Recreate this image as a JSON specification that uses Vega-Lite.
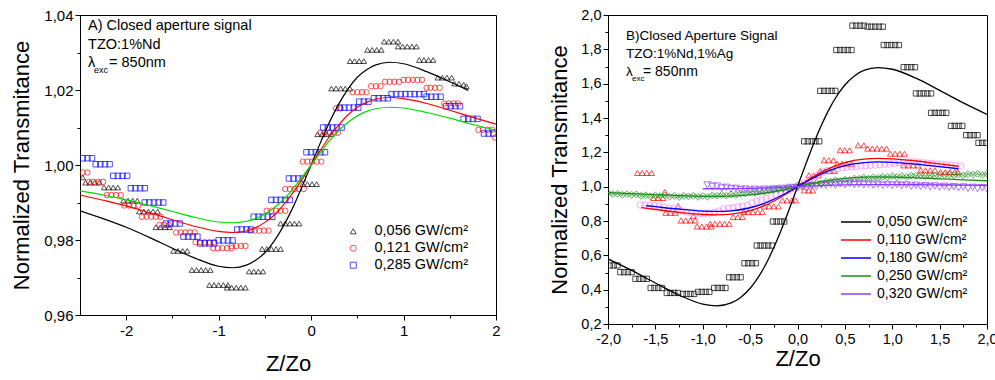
{
"$schema":"https://vega.github.io/schema/vega-lite/v6.json",
"padding":{"left":10,"top":6,"right":0,"bottom":0},
"spacing":47,
"columns":2,
"align":"none",
"resolve":{"scale":{"color":"independent","shape":"independent","stroke":"independent","size":"independent"}},
"config":{
 "font":"Liberation Sans",
 "view":{"stroke":"#000","strokeWidth":1},
 "axis":{"grid":false,"domainColor":"#000","tickColor":"#000","labelColor":"#000","titleColor":"#000","labelFont":"Liberation Sans","titleFont":"Liberation Sans","titleFontWeight":"normal","labelFontSize":15,"titleFontSize":22,"labelOverlap":false,"labelFlush":false,"labelBound":false},
 "legend":{"labelFont":"Liberation Sans","labelColor":"#000","padding":0}
},
"datasets":{
"TA":[{"t":"A) Closed aperture signal","x":-2.413,"y":1.037},{"t":"TZO:1%Nd","x":-2.413,"y":1.0321}],
"TB":[{"t":"B)Closed Aperture Signal","x":-1.81,"y":1.879},{"t":"TZO:1%Nd,1%Ag","x":-1.81,"y":1.774}],
"A":[
{"s":"a","x":-2.47,"y":0.9967},{"s":"a","x":-2.44,"y":0.9953},{"s":"a","x":-2.39,"y":0.9953},{"s":"a","x":-2.34,"y":0.9953},{"s":"a","x":-2.29,"y":0.9953},
{"s":"a","x":-2.24,"y":0.994},{"s":"a","x":-2.19,"y":0.994},{"s":"a","x":-2.14,"y":0.994},{"s":"a","x":-2.09,"y":0.994},
{"s":"a","x":-2.03,"y":0.9905},{"s":"a","x":-1.98,"y":0.9905},{"s":"a","x":-1.93,"y":0.9905},{"s":"a","x":-1.88,"y":0.9905},
{"s":"a","x":-1.86,"y":0.9876},{"s":"a","x":-1.81,"y":0.9876},{"s":"a","x":-1.76,"y":0.9876},{"s":"a","x":-1.71,"y":0.9876},{"s":"a","x":-1.66,"y":0.9876},
{"s":"a","x":-1.68,"y":0.9834},{"s":"a","x":-1.63,"y":0.9834},{"s":"a","x":-1.58,"y":0.9834},{"s":"a","x":-1.53,"y":0.9834},
{"s":"a","x":-1.49,"y":0.9771},{"s":"a","x":-1.44,"y":0.9771},{"s":"a","x":-1.39,"y":0.9771},{"s":"a","x":-1.34,"y":0.9771},
{"s":"a","x":-1.29,"y":0.972},{"s":"a","x":-1.24,"y":0.972},{"s":"a","x":-1.19,"y":0.972},{"s":"a","x":-1.14,"y":0.972},{"s":"a","x":-1.09,"y":0.972},
{"s":"a","x":-1.1,"y":0.968},{"s":"a","x":-1.05,"y":0.968},{"s":"a","x":-1.0,"y":0.968},{"s":"a","x":-0.95,"y":0.968},{"s":"a","x":-0.9,"y":0.968},
{"s":"a","x":-0.91,"y":0.9673},{"s":"a","x":-0.86,"y":0.9673},{"s":"a","x":-0.81,"y":0.9673},{"s":"a","x":-0.76,"y":0.9673},{"s":"a","x":-0.71,"y":0.9673},
{"s":"a","x":-0.67,"y":0.9716},{"s":"a","x":-0.62,"y":0.9716},{"s":"a","x":-0.57,"y":0.9716},{"s":"a","x":-0.52,"y":0.9716},
{"s":"a","x":-0.53,"y":0.9776},{"s":"a","x":-0.48,"y":0.9776},{"s":"a","x":-0.43,"y":0.9776},{"s":"a","x":-0.38,"y":0.9776},{"s":"a","x":-0.33,"y":0.9776},
{"s":"a","x":-0.33,"y":0.9844},{"s":"a","x":-0.28,"y":0.9844},{"s":"a","x":-0.23,"y":0.9844},{"s":"a","x":-0.18,"y":0.9844},{"s":"a","x":-0.13,"y":0.9844},
{"s":"a","x":-0.09,"y":0.9949},{"s":"a","x":-0.04,"y":0.9949},{"s":"a","x":0.01,"y":0.9949},{"s":"a","x":0.06,"y":0.9949},
{"s":"a","x":0.07,"y":1.0082},{"s":"a","x":0.12,"y":1.0082},{"s":"a","x":0.17,"y":1.0082},{"s":"a","x":0.22,"y":1.0082},
{"s":"a","x":0.22,"y":1.0204},{"s":"a","x":0.27,"y":1.0204},{"s":"a","x":0.32,"y":1.0204},{"s":"a","x":0.37,"y":1.0204},{"s":"a","x":0.42,"y":1.0204},
{"s":"a","x":0.42,"y":1.0277},{"s":"a","x":0.47,"y":1.0277},{"s":"a","x":0.52,"y":1.0277},{"s":"a","x":0.57,"y":1.0277},
{"s":"a","x":0.61,"y":1.0307},{"s":"a","x":0.66,"y":1.0307},{"s":"a","x":0.71,"y":1.0307},{"s":"a","x":0.76,"y":1.0307},
{"s":"a","x":0.79,"y":1.0329},{"s":"a","x":0.84,"y":1.0329},{"s":"a","x":0.89,"y":1.0329},{"s":"a","x":0.94,"y":1.0329},
{"s":"a","x":0.94,"y":1.0316},{"s":"a","x":0.99,"y":1.0316},{"s":"a","x":1.04,"y":1.0316},{"s":"a","x":1.09,"y":1.0316},{"s":"a","x":1.14,"y":1.0316},
{"s":"a","x":1.17,"y":1.028},{"s":"a","x":1.22,"y":1.028},{"s":"a","x":1.27,"y":1.028},{"s":"a","x":1.32,"y":1.028},
{"s":"a","x":1.37,"y":1.0233},{"s":"a","x":1.42,"y":1.0233},{"s":"a","x":1.47,"y":1.0233},{"s":"a","x":1.52,"y":1.0233},
{"s":"a","x":1.55,"y":1.0217},{"s":"a","x":1.6,"y":1.0217},{"s":"a","x":1.65,"y":1.0214},{"s":"a","x":1.68,"y":1.021},
{"s":"b","x":-2.47,"y":0.998},{"s":"b","x":-2.42,"y":0.998},
{"s":"b","x":-2.4,"y":0.9955},{"s":"b","x":-2.35,"y":0.9955},{"s":"b","x":-2.3,"y":0.9955},{"s":"b","x":-2.25,"y":0.9955},
{"s":"b","x":-2.21,"y":0.992},{"s":"b","x":-2.16,"y":0.992},{"s":"b","x":-2.11,"y":0.992},{"s":"b","x":-2.06,"y":0.992},
{"s":"b","x":-2.02,"y":0.9892},{"s":"b","x":-1.97,"y":0.9892},{"s":"b","x":-1.92,"y":0.9892},{"s":"b","x":-1.87,"y":0.9892},
{"s":"b","x":-1.83,"y":0.9862},{"s":"b","x":-1.78,"y":0.9862},{"s":"b","x":-1.73,"y":0.9862},{"s":"b","x":-1.68,"y":0.9862},{"s":"b","x":-1.63,"y":0.9862},
{"s":"b","x":-1.64,"y":0.984},{"s":"b","x":-1.59,"y":0.984},{"s":"b","x":-1.54,"y":0.984},
{"s":"b","x":-1.46,"y":0.982},{"s":"b","x":-1.41,"y":0.982},{"s":"b","x":-1.36,"y":0.982},{"s":"b","x":-1.31,"y":0.982},{"s":"b","x":-1.26,"y":0.982},
{"s":"b","x":-1.25,"y":0.9794},{"s":"b","x":-1.2,"y":0.9794},{"s":"b","x":-1.15,"y":0.9794},{"s":"b","x":-1.1,"y":0.9794},{"s":"b","x":-1.05,"y":0.9794},
{"s":"b","x":-1.06,"y":0.9778},{"s":"b","x":-1.01,"y":0.9778},{"s":"b","x":-0.96,"y":0.9778},{"s":"b","x":-0.91,"y":0.9778},{"s":"b","x":-0.86,"y":0.9778},
{"s":"b","x":-0.86,"y":0.9784},{"s":"b","x":-0.81,"y":0.9784},{"s":"b","x":-0.76,"y":0.9784},{"s":"b","x":-0.71,"y":0.9784},
{"s":"b","x":-0.66,"y":0.9825},{"s":"b","x":-0.61,"y":0.9825},{"s":"b","x":-0.56,"y":0.9825},{"s":"b","x":-0.51,"y":0.9825},{"s":"b","x":-0.46,"y":0.9825},
{"s":"b","x":-0.48,"y":0.9878},{"s":"b","x":-0.43,"y":0.9878},{"s":"b","x":-0.38,"y":0.9878},{"s":"b","x":-0.33,"y":0.9878},{"s":"b","x":-0.28,"y":0.9878},
{"s":"b","x":-0.28,"y":0.9936},{"s":"b","x":-0.23,"y":0.9936},{"s":"b","x":-0.18,"y":0.9936},{"s":"b","x":-0.13,"y":0.9936},{"s":"b","x":-0.08,"y":0.9936},
{"s":"b","x":-0.09,"y":1.0009},{"s":"b","x":-0.04,"y":1.0009},{"s":"b","x":0.01,"y":1.0009},{"s":"b","x":0.06,"y":1.0009},{"s":"b","x":0.11,"y":1.0009},
{"s":"b","x":0.1,"y":1.0086},{"s":"b","x":0.15,"y":1.0086},{"s":"b","x":0.2,"y":1.0086},{"s":"b","x":0.25,"y":1.0086},{"s":"b","x":0.29,"y":1.0086},
{"s":"b","x":0.27,"y":1.0151},{"s":"b","x":0.32,"y":1.0151},
{"s":"b","x":0.45,"y":1.0194},{"s":"b","x":0.5,"y":1.0194},{"s":"b","x":0.55,"y":1.0194},{"s":"b","x":0.6,"y":1.0194},
{"s":"b","x":0.65,"y":1.021},{"s":"b","x":0.7,"y":1.021},{"s":"b","x":0.75,"y":1.021},{"s":"b","x":0.8,"y":1.0222},
{"s":"b","x":0.85,"y":1.0222},{"s":"b","x":0.9,"y":1.0222},{"s":"b","x":0.95,"y":1.0222},{"s":"b","x":1.0,"y":1.0227},
{"s":"b","x":1.05,"y":1.0227},{"s":"b","x":1.1,"y":1.0227},{"s":"b","x":1.15,"y":1.0227},{"s":"b","x":1.2,"y":1.0227},
{"s":"b","x":1.25,"y":1.0206},{"s":"b","x":1.29,"y":1.0206},{"s":"b","x":1.34,"y":1.0206},{"s":"b","x":1.39,"y":1.0206},
{"s":"b","x":1.44,"y":1.0164},{"s":"b","x":1.49,"y":1.0164},{"s":"b","x":1.54,"y":1.0164},{"s":"b","x":1.59,"y":1.0164},
{"s":"b","x":1.81,"y":1.0094},{"s":"b","x":1.86,"y":1.0094},{"s":"b","x":1.91,"y":1.0094},{"s":"b","x":1.96,"y":1.0094},{"s":"b","x":1.99,"y":1.0073},
{"s":"c","x":-2.47,"y":1.0018},{"s":"c","x":-2.42,"y":1.0018},{"s":"c","x":-2.37,"y":1.0018},
{"s":"c","x":-2.33,"y":1.0002},{"s":"c","x":-2.28,"y":1.0002},{"s":"c","x":-2.23,"y":1.0002},{"s":"c","x":-2.18,"y":1.0002},
{"s":"c","x":-2.14,"y":0.9971},{"s":"c","x":-2.09,"y":0.9971},{"s":"c","x":-2.04,"y":0.9971},{"s":"c","x":-1.99,"y":0.9971},
{"s":"c","x":-1.95,"y":0.9938},{"s":"c","x":-1.9,"y":0.9938},{"s":"c","x":-1.85,"y":0.9938},{"s":"c","x":-1.8,"y":0.9938},
{"s":"c","x":-1.8,"y":0.99},{"s":"c","x":-1.75,"y":0.99},{"s":"c","x":-1.7,"y":0.99},{"s":"c","x":-1.65,"y":0.99},{"s":"c","x":-1.6,"y":0.99},
{"s":"c","x":-1.57,"y":0.9844},{"s":"c","x":-1.52,"y":0.9844},{"s":"c","x":-1.47,"y":0.9844},{"s":"c","x":-1.42,"y":0.9844},
{"s":"c","x":-1.38,"y":0.9809},{"s":"c","x":-1.33,"y":0.9809},{"s":"c","x":-1.28,"y":0.9809},{"s":"c","x":-1.23,"y":0.9809},
{"s":"c","x":-1.2,"y":0.9791},{"s":"c","x":-1.15,"y":0.9791},{"s":"c","x":-1.1,"y":0.9791},{"s":"c","x":-1.05,"y":0.9791},
{"s":"c","x":-1.0,"y":0.9799},{"s":"c","x":-0.95,"y":0.9799},{"s":"c","x":-0.9,"y":0.9799},{"s":"c","x":-0.85,"y":0.9799},
{"s":"c","x":-0.8,"y":0.9828},{"s":"c","x":-0.75,"y":0.9828},{"s":"c","x":-0.7,"y":0.9828},{"s":"c","x":-0.65,"y":0.9828},
{"s":"c","x":-0.62,"y":0.9862},{"s":"c","x":-0.57,"y":0.9862},{"s":"c","x":-0.52,"y":0.9862},{"s":"c","x":-0.47,"y":0.9862},{"s":"c","x":-0.42,"y":0.9862},
{"s":"c","x":-0.43,"y":0.9907},{"s":"c","x":-0.38,"y":0.9907},{"s":"c","x":-0.33,"y":0.9907},{"s":"c","x":-0.28,"y":0.9907},{"s":"c","x":-0.23,"y":0.9907},
{"s":"c","x":-0.24,"y":0.9964},{"s":"c","x":-0.19,"y":0.9964},{"s":"c","x":-0.14,"y":0.9964},{"s":"c","x":-0.09,"y":0.9964},
{"s":"c","x":-0.05,"y":1.0034},{"s":"c","x":0.0,"y":1.0034},{"s":"c","x":0.05,"y":1.0034},{"s":"c","x":0.1,"y":1.0034},{"s":"c","x":0.15,"y":1.0034},
{"s":"c","x":0.13,"y":1.01},{"s":"c","x":0.18,"y":1.01},{"s":"c","x":0.23,"y":1.01},{"s":"c","x":0.28,"y":1.01},{"s":"c","x":0.33,"y":1.01},
{"s":"c","x":0.31,"y":1.0153},{"s":"c","x":0.36,"y":1.0153},{"s":"c","x":0.41,"y":1.0153},{"s":"c","x":0.46,"y":1.0153},{"s":"c","x":0.51,"y":1.0153},
{"s":"c","x":0.52,"y":1.0169},{"s":"c","x":0.57,"y":1.0169},{"s":"c","x":0.62,"y":1.0169},
{"s":"c","x":0.68,"y":1.0178},{"s":"c","x":0.73,"y":1.0178},{"s":"c","x":0.78,"y":1.0178},{"s":"c","x":0.83,"y":1.0178},
{"s":"c","x":0.87,"y":1.0189},{"s":"c","x":0.92,"y":1.0189},{"s":"c","x":0.97,"y":1.0189},{"s":"c","x":1.02,"y":1.0189},{"s":"c","x":1.07,"y":1.0189},{"s":"c","x":1.12,"y":1.0189},{"s":"c","x":1.17,"y":1.0189},{"s":"c","x":1.22,"y":1.0189},
{"s":"c","x":1.25,"y":1.0182},{"s":"c","x":1.3,"y":1.0182},{"s":"c","x":1.35,"y":1.0182},{"s":"c","x":1.4,"y":1.0182},
{"s":"c","x":1.46,"y":1.0157},{"s":"c","x":1.51,"y":1.0157},{"s":"c","x":1.56,"y":1.0157},{"s":"c","x":1.61,"y":1.0157},
{"s":"c","x":1.65,"y":1.0123},{"s":"c","x":1.7,"y":1.0123},{"s":"c","x":1.75,"y":1.0123},{"s":"c","x":1.8,"y":1.0123},
{"s":"c","x":1.87,"y":1.0084},{"s":"c","x":1.92,"y":1.0084},{"s":"c","x":1.97,"y":1.0084}
],
"AL":[
{"s":"a","x":-2.5,"y":0.9878},{"s":"a","x":-2.25,"y":0.9857},{"s":"a","x":-2,"y":0.9834},{"s":"a","x":-1.75,"y":0.9807},{"s":"a","x":-1.5,"y":0.9778},{"s":"a","x":-1.25,"y":0.9751},{"s":"a","x":-1,"y":0.973},{"s":"a","x":-0.85,"y":0.9726},{"s":"a","x":-0.7,"y":0.9733},{"s":"a","x":-0.6,"y":0.9746},{"s":"a","x":-0.5,"y":0.9766},{"s":"a","x":-0.4,"y":0.9797},{"s":"a","x":-0.3,"y":0.9837},{"s":"a","x":-0.2,"y":0.9885},{"s":"a","x":-0.1,"y":0.9941},{"s":"a","x":0,"y":1.0},{"s":"a","x":0.1,"y":1.0059},{"s":"a","x":0.2,"y":1.0115},{"s":"a","x":0.3,"y":1.0163},{"s":"a","x":0.4,"y":1.0203},{"s":"a","x":0.5,"y":1.0234},{"s":"a","x":0.6,"y":1.0254},{"s":"a","x":0.7,"y":1.0267},{"s":"a","x":0.85,"y":1.0274},{"s":"a","x":1,"y":1.027},{"s":"a","x":1.25,"y":1.0249},{"s":"a","x":1.5,"y":1.0222},{"s":"a","x":1.7,"y":1.0199},
{"s":"b","x":-2.5,"y":0.992},{"s":"b","x":-2.25,"y":0.9906},{"s":"b","x":-2,"y":0.9891},{"s":"b","x":-1.75,"y":0.9873},{"s":"b","x":-1.5,"y":0.9854},{"s":"b","x":-1.25,"y":0.9836},{"s":"b","x":-1,"y":0.9823},{"s":"b","x":-0.85,"y":0.982},{"s":"b","x":-0.7,"y":0.9824},{"s":"b","x":-0.6,"y":0.9833},{"s":"b","x":-0.5,"y":0.9847},{"s":"b","x":-0.4,"y":0.9866},{"s":"b","x":-0.3,"y":0.9893},{"s":"b","x":-0.2,"y":0.9925},{"s":"b","x":-0.1,"y":0.9961},{"s":"b","x":0,"y":1.0},{"s":"b","x":0.1,"y":1.0039},{"s":"b","x":0.2,"y":1.0076},{"s":"b","x":0.3,"y":1.0107},{"s":"b","x":0.4,"y":1.0134},{"s":"b","x":0.5,"y":1.0154},{"s":"b","x":0.6,"y":1.0167},{"s":"b","x":0.7,"y":1.0176},{"s":"b","x":0.85,"y":1.018},{"s":"b","x":1,"y":1.0177},{"s":"b","x":1.25,"y":1.0164},{"s":"b","x":1.5,"y":1.0146},{"s":"b","x":1.75,"y":1.0127},{"s":"b","x":2,"y":1.0109},
{"s":"c","x":-2.5,"y":0.9931},{"s":"c","x":-2.25,"y":0.992},{"s":"c","x":-2,"y":0.9907},{"s":"c","x":-1.75,"y":0.9892},{"s":"c","x":-1.5,"y":0.9876},{"s":"c","x":-1.25,"y":0.986},{"s":"c","x":-1,"y":0.9848},{"s":"c","x":-0.85,"y":0.9846},{"s":"c","x":-0.7,"y":0.985},{"s":"c","x":-0.6,"y":0.9857},{"s":"c","x":-0.5,"y":0.9869},{"s":"c","x":-0.4,"y":0.9886},{"s":"c","x":-0.3,"y":0.9908},{"s":"c","x":-0.2,"y":0.9935},{"s":"c","x":-0.1,"y":0.9967},{"s":"c","x":0,"y":1.0},{"s":"c","x":0.1,"y":1.0033},{"s":"c","x":0.2,"y":1.0065},{"s":"c","x":0.3,"y":1.0092},{"s":"c","x":0.4,"y":1.0114},{"s":"c","x":0.5,"y":1.0131},{"s":"c","x":0.6,"y":1.0143},{"s":"c","x":0.7,"y":1.015},{"s":"c","x":0.85,"y":1.0154},{"s":"c","x":1,"y":1.0152},{"s":"c","x":1.25,"y":1.014},{"s":"c","x":1.5,"y":1.0125},{"s":"c","x":1.75,"y":1.0108},{"s":"c","x":2,"y":1.0093}
],
"B":[
{"s":"a","x":-1.98,"y":0.541},{"s":"a","x":-1.94,"y":0.541},{"s":"a","x":-1.9,"y":0.541},
{"s":"a","x":-1.87,"y":0.502},{"s":"a","x":-1.83,"y":0.502},{"s":"a","x":-1.79,"y":0.502},{"s":"a","x":-1.75,"y":0.502},
{"s":"a","x":-1.71,"y":0.463},{"s":"a","x":-1.67,"y":0.463},{"s":"a","x":-1.63,"y":0.463},{"s":"a","x":-1.59,"y":0.463},
{"s":"a","x":-1.55,"y":0.41},{"s":"a","x":-1.51,"y":0.41},{"s":"a","x":-1.47,"y":0.41},{"s":"a","x":-1.43,"y":0.41},
{"s":"a","x":-1.38,"y":0.381},{"s":"a","x":-1.34,"y":0.381},{"s":"a","x":-1.3,"y":0.381},{"s":"a","x":-1.26,"y":0.381},
{"s":"a","x":-1.21,"y":0.375},{"s":"a","x":-1.17,"y":0.375},{"s":"a","x":-1.13,"y":0.375},{"s":"a","x":-1.09,"y":0.375},
{"s":"a","x":-1.05,"y":0.387},{"s":"a","x":-1.01,"y":0.387},{"s":"a","x":-0.97,"y":0.387},{"s":"a","x":-0.93,"y":0.387},
{"s":"a","x":-0.88,"y":0.41},{"s":"a","x":-0.84,"y":0.41},{"s":"a","x":-0.8,"y":0.41},{"s":"a","x":-0.76,"y":0.41},
{"s":"a","x":-0.72,"y":0.472},{"s":"a","x":-0.68,"y":0.472},{"s":"a","x":-0.64,"y":0.472},{"s":"a","x":-0.6,"y":0.472},
{"s":"a","x":-0.56,"y":0.554},{"s":"a","x":-0.52,"y":0.554},{"s":"a","x":-0.48,"y":0.554},{"s":"a","x":-0.44,"y":0.554},
{"s":"a","x":-0.43,"y":0.657},{"s":"a","x":-0.39,"y":0.657},{"s":"a","x":-0.35,"y":0.657},{"s":"a","x":-0.31,"y":0.657},{"s":"a","x":-0.27,"y":0.657},
{"s":"a","x":-0.26,"y":0.797},{"s":"a","x":-0.22,"y":0.797},{"s":"a","x":-0.18,"y":0.797},{"s":"a","x":-0.14,"y":0.797},
{"s":"a","x":0.07,"y":1.264},{"s":"a","x":0.11,"y":1.264},{"s":"a","x":0.15,"y":1.264},{"s":"a","x":0.19,"y":1.264},{"s":"a","x":0.23,"y":1.264},
{"s":"a","x":0.24,"y":1.558},{"s":"a","x":0.28,"y":1.558},{"s":"a","x":0.32,"y":1.558},{"s":"a","x":0.36,"y":1.558},{"s":"a","x":0.4,"y":1.558},
{"s":"a","x":0.41,"y":1.796},{"s":"a","x":0.45,"y":1.796},{"s":"a","x":0.49,"y":1.796},{"s":"a","x":0.53,"y":1.796},{"s":"a","x":0.57,"y":1.796},
{"s":"a","x":0.58,"y":1.938},{"s":"a","x":0.62,"y":1.938},{"s":"a","x":0.66,"y":1.938},{"s":"a","x":0.7,"y":1.938},
{"s":"a","x":0.74,"y":1.932},{"s":"a","x":0.78,"y":1.932},{"s":"a","x":0.82,"y":1.932},{"s":"a","x":0.86,"y":1.932},{"s":"a","x":0.9,"y":1.932},
{"s":"a","x":0.91,"y":1.825},{"s":"a","x":0.95,"y":1.825},{"s":"a","x":0.99,"y":1.825},{"s":"a","x":1.03,"y":1.825},{"s":"a","x":1.07,"y":1.825},
{"s":"a","x":1.12,"y":1.696},{"s":"a","x":1.16,"y":1.696},{"s":"a","x":1.2,"y":1.696},{"s":"a","x":1.24,"y":1.696},
{"s":"a","x":1.25,"y":1.543},{"s":"a","x":1.29,"y":1.543},{"s":"a","x":1.33,"y":1.543},{"s":"a","x":1.37,"y":1.543},{"s":"a","x":1.41,"y":1.543},
{"s":"a","x":1.41,"y":1.43},{"s":"a","x":1.45,"y":1.43},{"s":"a","x":1.49,"y":1.43},{"s":"a","x":1.53,"y":1.43},{"s":"a","x":1.57,"y":1.43},
{"s":"a","x":1.62,"y":1.354},{"s":"a","x":1.66,"y":1.354},{"s":"a","x":1.7,"y":1.354},{"s":"a","x":1.74,"y":1.354},
{"s":"a","x":1.78,"y":1.3},{"s":"a","x":1.82,"y":1.3},{"s":"a","x":1.86,"y":1.3},{"s":"a","x":1.9,"y":1.3},
{"s":"a","x":1.91,"y":1.255},{"s":"a","x":1.95,"y":1.255},{"s":"a","x":1.99,"y":1.255},
{"s":"b","x":-1.69,"y":1.08},{"s":"b","x":-1.64,"y":1.08},{"s":"b","x":-1.59,"y":1.08},{"s":"b","x":-1.54,"y":1.08},
{"s":"b","x":-1.52,"y":0.934},{"s":"b","x":-1.47,"y":0.934},{"s":"b","x":-1.42,"y":0.934},{"s":"b","x":-1.4,"y":0.969},
{"s":"b","x":-1.39,"y":0.848},{"s":"b","x":-1.34,"y":0.848},{"s":"b","x":-1.29,"y":0.848},{"s":"b","x":-1.26,"y":0.887},
{"s":"b","x":-1.23,"y":0.803},{"s":"b","x":-1.18,"y":0.803},{"s":"b","x":-1.13,"y":0.803},{"s":"b","x":-1.08,"y":0.803},{"s":"b","x":-1.1,"y":0.83},
{"s":"b","x":-1.06,"y":0.768},{"s":"b","x":-1.01,"y":0.768},{"s":"b","x":-0.96,"y":0.768},{"s":"b","x":-0.91,"y":0.768},
{"s":"b","x":-0.92,"y":0.784},{"s":"b","x":-0.87,"y":0.784},{"s":"b","x":-0.82,"y":0.784},{"s":"b","x":-0.77,"y":0.784},{"s":"b","x":-0.72,"y":0.784},
{"s":"b","x":-0.68,"y":0.823},{"s":"b","x":-0.63,"y":0.823},{"s":"b","x":-0.58,"y":0.823},
{"s":"b","x":-0.57,"y":0.852},{"s":"b","x":-0.52,"y":0.852},{"s":"b","x":-0.47,"y":0.852},{"s":"b","x":-0.42,"y":0.852},{"s":"b","x":-0.37,"y":0.852},
{"s":"b","x":-0.35,"y":0.885},{"s":"b","x":-0.3,"y":0.885},{"s":"b","x":-0.25,"y":0.885},{"s":"b","x":-0.2,"y":0.885},
{"s":"b","x":-0.16,"y":0.92},{"s":"b","x":-0.11,"y":0.92},{"s":"b","x":-0.06,"y":0.92},{"s":"b","x":-0.02,"y":0.92},
{"s":"b","x":0.07,"y":0.978},{"s":"b","x":0.12,"y":0.978},{"s":"b","x":0.16,"y":0.978},
{"s":"b","x":0.12,"y":1.066},{"s":"b","x":0.17,"y":1.066},{"s":"b","x":0.22,"y":1.066},
{"s":"b","x":0.24,"y":1.091},{"s":"b","x":0.29,"y":1.091},{"s":"b","x":0.34,"y":1.091},{"s":"b","x":0.39,"y":1.091},
{"s":"b","x":0.28,"y":1.154},{"s":"b","x":0.33,"y":1.154},{"s":"b","x":0.38,"y":1.154},
{"s":"b","x":0.42,"y":1.134},{"s":"b","x":0.47,"y":1.134},{"s":"b","x":0.52,"y":1.134},{"s":"b","x":0.57,"y":1.134},
{"s":"b","x":0.45,"y":1.212},{"s":"b","x":0.5,"y":1.212},{"s":"b","x":0.55,"y":1.212},
{"s":"b","x":0.64,"y":1.241},{"s":"b","x":0.7,"y":1.241},
{"s":"b","x":0.74,"y":1.222},{"s":"b","x":0.79,"y":1.222},{"s":"b","x":0.84,"y":1.222},{"s":"b","x":0.89,"y":1.222},{"s":"b","x":0.94,"y":1.222},
{"s":"b","x":0.98,"y":1.192},{"s":"b","x":1.03,"y":1.192},{"s":"b","x":1.08,"y":1.192},{"s":"b","x":1.13,"y":1.192},
{"s":"b","x":1.12,"y":1.124},{"s":"b","x":1.17,"y":1.124},{"s":"b","x":1.22,"y":1.124},{"s":"b","x":1.27,"y":1.124},
{"s":"b","x":1.3,"y":1.095},{"s":"b","x":1.35,"y":1.095},{"s":"b","x":1.4,"y":1.095},{"s":"b","x":1.45,"y":1.095},
{"s":"b","x":1.51,"y":1.085},{"s":"b","x":1.56,"y":1.085},{"s":"b","x":1.61,"y":1.085},{"s":"b","x":1.66,"y":1.085},{"s":"b","x":1.69,"y":1.085},
{"s":"c","x":-1.66,"y":0.893},{"s":"c","x":-1.61,"y":0.893},{"s":"c","x":-1.56,"y":0.891},{"s":"c","x":-1.51,"y":0.889},
{"s":"c","x":-1.46,"y":0.885},{"s":"c","x":-1.41,"y":0.881},{"s":"c","x":-1.36,"y":0.876},{"s":"c","x":-1.31,"y":0.871},{"s":"c","x":-1.26,"y":0.865},
{"s":"c","x":-1.22,"y":0.858},{"s":"c","x":-1.17,"y":0.852},{"s":"c","x":-1.12,"y":0.848},{"s":"c","x":-1.07,"y":0.846},{"s":"c","x":-1.02,"y":0.845},
{"s":"c","x":-0.98,"y":0.845},{"s":"c","x":-0.93,"y":0.846},{"s":"c","x":-0.88,"y":0.85},{"s":"c","x":-0.83,"y":0.858},
{"s":"c","x":-0.78,"y":0.87},{"s":"c","x":-0.73,"y":0.874},{"s":"c","x":-0.68,"y":0.878},{"s":"c","x":-0.63,"y":0.882},{"s":"c","x":-0.58,"y":0.886},{"s":"c","x":-0.53,"y":0.89},
{"s":"c","x":-0.48,"y":0.905},{"s":"c","x":-0.43,"y":0.915},{"s":"c","x":-0.38,"y":0.922},{"s":"c","x":-0.33,"y":0.93},
{"s":"c","x":-0.28,"y":0.945},{"s":"c","x":-0.23,"y":0.955},{"s":"c","x":-0.18,"y":0.963},{"s":"c","x":-0.13,"y":0.972},{"s":"c","x":-0.08,"y":0.98},
{"s":"c","x":-0.03,"y":0.99},{"s":"c","x":0.02,"y":1.0},
{"s":"c","x":0.07,"y":1.02},{"s":"c","x":0.12,"y":1.04},{"s":"c","x":0.17,"y":1.055},{"s":"c","x":0.22,"y":1.07},{"s":"c","x":0.27,"y":1.085},
{"s":"c","x":0.32,"y":1.095},{"s":"c","x":0.37,"y":1.1},{"s":"c","x":0.42,"y":1.105},{"s":"c","x":0.47,"y":1.11},{"s":"c","x":0.52,"y":1.113},{"s":"c","x":0.57,"y":1.115},
{"s":"c","x":0.62,"y":1.118},{"s":"c","x":0.67,"y":1.12},{"s":"c","x":0.72,"y":1.122},{"s":"c","x":0.77,"y":1.124},{"s":"c","x":0.82,"y":1.126},{"s":"c","x":0.87,"y":1.128},{"s":"c","x":0.92,"y":1.13},{"s":"c","x":0.97,"y":1.132},
{"s":"c","x":1.02,"y":1.135},{"s":"c","x":1.07,"y":1.14},{"s":"c","x":1.12,"y":1.143},{"s":"c","x":1.17,"y":1.145},{"s":"c","x":1.22,"y":1.145},{"s":"c","x":1.27,"y":1.143},{"s":"c","x":1.32,"y":1.14},
{"s":"c","x":1.37,"y":1.137},{"s":"c","x":1.42,"y":1.135},{"s":"c","x":1.47,"y":1.132},{"s":"c","x":1.52,"y":1.13},{"s":"c","x":1.57,"y":1.128},{"s":"c","x":1.62,"y":1.126},{"s":"c","x":1.67,"y":1.124},{"s":"c","x":1.72,"y":1.12},
{"s":"d","x":-2.0,"y":0.964},{"s":"d","x":-1.95,"y":0.956},{"s":"d","x":-1.9,"y":0.959},{"s":"d","x":-1.85,"y":0.952},{"s":"d","x":-1.8,"y":0.957},{"s":"d","x":-1.75,"y":0.952},{"s":"d","x":-1.7,"y":0.955},{"s":"d","x":-1.65,"y":0.947},{"s":"d","x":-1.6,"y":0.95},{"s":"d","x":-1.55,"y":0.943},
{"s":"d","x":-1.5,"y":0.949},{"s":"d","x":-1.45,"y":0.945},{"s":"d","x":-1.4,"y":0.949},{"s":"d","x":-1.35,"y":0.942},{"s":"d","x":-1.3,"y":0.946},{"s":"d","x":-1.25,"y":0.94},{"s":"d","x":-1.2,"y":0.946},{"s":"d","x":-1.15,"y":0.943},{"s":"d","x":-1.1,"y":0.947},{"s":"d","x":-1.05,"y":0.941},
{"s":"d","x":-1.0,"y":0.946},{"s":"d","x":-0.95,"y":0.941},{"s":"d","x":-0.9,"y":0.949},{"s":"d","x":-0.85,"y":0.947},{"s":"d","x":-0.8,"y":0.953},{"s":"d","x":-0.75,"y":0.948},{"s":"d","x":-0.7,"y":0.955},{"s":"d","x":-0.65,"y":0.952},{"s":"d","x":-0.6,"y":0.961},{"s":"d","x":-0.55,"y":0.961},
{"s":"d","x":-0.5,"y":0.968},{"s":"d","x":-0.45,"y":0.965},{"s":"d","x":-0.4,"y":0.973},{"s":"d","x":-0.35,"y":0.971},{"s":"d","x":-0.3,"y":0.982},{"s":"d","x":-0.25,"y":0.983},{"s":"d","x":-0.2,"y":0.991},{"s":"d","x":-0.15,"y":0.988},{"s":"d","x":-0.1,"y":0.997},{"s":"d","x":-0.05,"y":0.995},
{"s":"d","x":0.0,"y":1.006},{"s":"d","x":0.05,"y":1.007},{"s":"d","x":0.1,"y":1.015},{"s":"d","x":0.15,"y":1.012},{"s":"d","x":0.2,"y":1.021},{"s":"d","x":0.25,"y":1.019},{"s":"d","x":0.3,"y":1.029},{"s":"d","x":0.35,"y":1.029},{"s":"d","x":0.4,"y":1.037},{"s":"d","x":0.45,"y":1.033},
{"s":"d","x":0.5,"y":1.041},{"s":"d","x":0.55,"y":1.038},{"s":"d","x":0.6,"y":1.047},{"s":"d","x":0.65,"y":1.046},{"s":"d","x":0.7,"y":1.052},{"s":"d","x":0.75,"y":1.047},{"s":"d","x":0.8,"y":1.054},{"s":"d","x":0.85,"y":1.05},{"s":"d","x":0.9,"y":1.058},{"s":"d","x":0.95,"y":1.056},
{"s":"d","x":1.0,"y":1.062},{"s":"d","x":1.05,"y":1.056},{"s":"d","x":1.1,"y":1.062},{"s":"d","x":1.15,"y":1.057},{"s":"d","x":1.2,"y":1.065},{"s":"d","x":1.25,"y":1.063},{"s":"d","x":1.3,"y":1.068},{"s":"d","x":1.35,"y":1.062},{"s":"d","x":1.4,"y":1.068},{"s":"d","x":1.45,"y":1.063},
{"s":"d","x":1.5,"y":1.07},{"s":"d","x":1.55,"y":1.067},{"s":"d","x":1.6,"y":1.072},{"s":"d","x":1.65,"y":1.066},{"s":"d","x":1.7,"y":1.071},{"s":"d","x":1.75,"y":1.066},{"s":"d","x":1.8,"y":1.073},{"s":"d","x":1.85,"y":1.07},{"s":"d","x":1.9,"y":1.075},{"s":"d","x":1.95,"y":1.069},{"s":"d","x":2.0,"y":1.074},
{"s":"e","x":-0.95,"y":1.01},{"s":"e","x":-0.9,"y":1.002},{"s":"e","x":-0.85,"y":1.003},{"s":"e","x":-0.8,"y":0.992},{"s":"e","x":-0.75,"y":0.996},{"s":"e","x":-0.7,"y":0.987},{"s":"e","x":-0.65,"y":0.99},{"s":"e","x":-0.6,"y":0.982},{"s":"e","x":-0.55,"y":0.986},{"s":"e","x":-0.5,"y":0.979},
{"s":"e","x":-0.45,"y":0.985},{"s":"e","x":-0.4,"y":0.979},{"s":"e","x":-0.35,"y":0.985},{"s":"e","x":-0.3,"y":0.98},{"s":"e","x":-0.25,"y":0.987},{"s":"e","x":-0.2,"y":0.982},{"s":"e","x":-0.15,"y":0.99},{"s":"e","x":-0.1,"y":0.987},{"s":"e","x":-0.05,"y":0.995},{"s":"e","x":0.0,"y":0.992},
{"s":"e","x":0.05,"y":1.0},{"s":"e","x":0.1,"y":0.997},{"s":"e","x":0.15,"y":1.005},{"s":"e","x":0.2,"y":1.002},{"s":"e","x":0.25,"y":1.01},{"s":"e","x":0.3,"y":1.007},{"s":"e","x":0.35,"y":1.014},{"s":"e","x":0.4,"y":1.009},{"s":"e","x":0.45,"y":1.016},{"s":"e","x":0.5,"y":1.011},
{"s":"e","x":0.55,"y":1.017},{"s":"e","x":0.6,"y":1.011},{"s":"e","x":0.65,"y":1.016},{"s":"e","x":0.7,"y":1.01},{"s":"e","x":0.75,"y":1.015},{"s":"e","x":0.8,"y":1.009},{"s":"e","x":0.85,"y":1.014},{"s":"e","x":0.9,"y":1.008},{"s":"e","x":0.95,"y":1.013},{"s":"e","x":1.0,"y":1.007},
{"s":"e","x":1.05,"y":1.012},{"s":"e","x":1.1,"y":1.005},{"s":"e","x":1.15,"y":1.01},{"s":"e","x":1.2,"y":1.003},{"s":"e","x":1.25,"y":1.008},{"s":"e","x":1.3,"y":1.001},{"s":"e","x":1.35,"y":1.006},{"s":"e","x":1.4,"y":0.999},{"s":"e","x":1.45,"y":1.004},{"s":"e","x":1.5,"y":0.997},
{"s":"e","x":1.55,"y":1.002},{"s":"e","x":1.6,"y":0.995},{"s":"e","x":1.65,"y":1.0},{"s":"e","x":1.7,"y":0.993},{"s":"e","x":1.75,"y":0.998},{"s":"e","x":1.8,"y":0.991},{"s":"e","x":1.85,"y":0.996},{"s":"e","x":1.9,"y":0.989},{"s":"e","x":1.95,"y":0.994},{"s":"e","x":2.0,"y":0.987}
],
"BL":[
{"k":"a","x":-2,"y":0.579},{"k":"a","x":-1.75,"y":0.512},{"k":"a","x":-1.5,"y":0.439},{"k":"a","x":-1.25,"y":0.368},{"k":"a","x":-1,"y":0.316},{"k":"a","x":-0.85,"y":0.306},{"k":"a","x":-0.7,"y":0.323},{"k":"a","x":-0.6,"y":0.355},{"k":"a","x":-0.5,"y":0.408},{"k":"a","x":-0.45,"y":0.444},{"k":"a","x":-0.4,"y":0.485},{"k":"a","x":-0.35,"y":0.532},{"k":"a","x":-0.3,"y":0.586},{"k":"a","x":-0.25,"y":0.645},{"k":"a","x":-0.2,"y":0.709},{"k":"a","x":-0.15,"y":0.778},{"k":"a","x":-0.1,"y":0.85},{"k":"a","x":-0.05,"y":0.924},{"k":"a","x":0,"y":1.0},{"k":"a","x":0.05,"y":1.076},{"k":"a","x":0.1,"y":1.15},{"k":"a","x":0.15,"y":1.222},{"k":"a","x":0.2,"y":1.291},{"k":"a","x":0.25,"y":1.355},{"k":"a","x":0.3,"y":1.414},{"k":"a","x":0.35,"y":1.468},{"k":"a","x":0.4,"y":1.515},{"k":"a","x":0.45,"y":1.556},{"k":"a","x":0.5,"y":1.592},{"k":"a","x":0.6,"y":1.645},{"k":"a","x":0.7,"y":1.677},{"k":"a","x":0.85,"y":1.694},{"k":"a","x":1,"y":1.684},{"k":"a","x":1.25,"y":1.632},{"k":"a","x":1.5,"y":1.561},{"k":"a","x":1.75,"y":1.488},{"k":"a","x":2,"y":1.421},
{"k":"b","x":-1.65,"y":0.8775},{"k":"b","x":-1.5,"y":0.8671},{"k":"b","x":-1.25,"y":0.8504},{"k":"b","x":-1,"y":0.838},{"k":"b","x":-0.85,"y":0.8356},{"k":"b","x":-0.7,"y":0.8396},{"k":"b","x":-0.5,"y":0.8599},{"k":"b","x":-0.3,"y":0.9019},{"k":"b","x":-0.2,"y":0.9311},{"k":"b","x":-0.1,"y":0.9644},{"k":"b","x":0,"y":1.0},{"k":"b","x":0.1,"y":1.0356},{"k":"b","x":0.2,"y":1.0689},{"k":"b","x":0.3,"y":1.0981},{"k":"b","x":0.5,"y":1.1401},{"k":"b","x":0.7,"y":1.1604},{"k":"b","x":0.85,"y":1.1644},{"k":"b","x":1,"y":1.162},{"k":"b","x":1.25,"y":1.1496},{"k":"b","x":1.5,"y":1.1329},{"k":"b","x":1.7,"y":1.119},
{"k":"c","x":-1.6,"y":0.8896},{"k":"c","x":-1.5,"y":0.8835},{"k":"c","x":-1.25,"y":0.8689},{"k":"c","x":-1,"y":0.858},{"k":"c","x":-0.85,"y":0.8559},{"k":"c","x":-0.7,"y":0.8594},{"k":"c","x":-0.5,"y":0.8772},{"k":"c","x":-0.3,"y":0.914},{"k":"c","x":-0.2,"y":0.9396},{"k":"c","x":-0.1,"y":0.9688},{"k":"c","x":0,"y":1.0},{"k":"c","x":0.1,"y":1.0312},{"k":"c","x":0.2,"y":1.0604},{"k":"c","x":0.3,"y":1.086},{"k":"c","x":0.5,"y":1.1228},{"k":"c","x":0.7,"y":1.1406},{"k":"c","x":0.85,"y":1.1441},{"k":"c","x":1,"y":1.142},{"k":"c","x":1.25,"y":1.1311},{"k":"c","x":1.5,"y":1.1165},{"k":"c","x":1.7,"y":1.1044},
{"k":"d","x":-2,"y":0.9655},{"k":"d","x":-1.75,"y":0.96},{"k":"d","x":-1.5,"y":0.9541},{"k":"d","x":-1.25,"y":0.9483},{"k":"d","x":-1,"y":0.944},{"k":"d","x":-0.85,"y":0.9432},{"k":"d","x":-0.7,"y":0.9446},{"k":"d","x":-0.5,"y":0.9516},{"k":"d","x":-0.3,"y":0.9661},{"k":"d","x":-0.2,"y":0.9762},{"k":"d","x":-0.1,"y":0.9877},{"k":"d","x":0,"y":1.0},{"k":"d","x":0.1,"y":1.0123},{"k":"d","x":0.2,"y":1.0238},{"k":"d","x":0.3,"y":1.0339},{"k":"d","x":0.5,"y":1.0484},{"k":"d","x":0.7,"y":1.0554},{"k":"d","x":0.85,"y":1.0568},{"k":"d","x":1,"y":1.056},{"k":"d","x":1.25,"y":1.0517},{"k":"d","x":1.5,"y":1.0459},{"k":"d","x":1.75,"y":1.04},{"k":"d","x":2,"y":1.0345},
{"k":"e","x":-1,"y":0.988},{"k":"e","x":-0.85,"y":0.9878},{"k":"e","x":-0.7,"y":0.9881},{"k":"e","x":-0.5,"y":0.9896},{"k":"e","x":-0.3,"y":0.9927},{"k":"e","x":-0.2,"y":0.9949},{"k":"e","x":-0.1,"y":0.9974},{"k":"e","x":0,"y":1.0},{"k":"e","x":0.1,"y":1.0026},{"k":"e","x":0.2,"y":1.0051},{"k":"e","x":0.3,"y":1.0073},{"k":"e","x":0.5,"y":1.0104},{"k":"e","x":0.7,"y":1.0119},{"k":"e","x":0.85,"y":1.0122},{"k":"e","x":1,"y":1.012},{"k":"e","x":1.25,"y":1.0111},{"k":"e","x":1.5,"y":1.0098},{"k":"e","x":1.75,"y":1.0086},{"k":"e","x":2,"y":1.0074}
]
},
"concat":[
{
 "width":416,"height":300,
 "encoding":{
  "x":{"field":"x","type":"quantitative","scale":{"domain":[-2.5,2],"nice":false,"zero":false},
   "axis":{"values":[-2,-1.5,-1,-0.5,0,0.5,1,1.5,2],"labelExpr":"datum.value==round(datum.value)?replace(format(datum.value,'d'),'\u2212','-'):''","tickSize":{"condition":{"test":"datum.value==round(datum.value)","value":5},"value":3},"labelPadding":3,"title":"Z/Zo","titlePadding":15}},
  "y":{"field":"y","type":"quantitative","scale":{"domain":[0.96,1.04],"nice":false,"zero":false},
   "axis":{"values":[0.96,0.97,0.98,0.99,1.0,1.01,1.02,1.03,1.04],"labelExpr":"round(datum.value*100)%2==0?replace(format(datum.value,'.2f'),'.',','):''","tickSize":{"condition":{"test":"round(datum.value*100)%2==0","value":5},"value":3},"labelPadding":2,"title":"Normalized Transmitance","titlePadding":10}}
 },
 "layer":[
  {"data":{"name":"A"},"mark":{"type":"point","filled":false,"size":30,"strokeWidth":1,"clip":true},
   "encoding":{
    "color":{"field":"s","type":"nominal","scale":{"domain":["a","b","c"],"range":["#000000","#ff0000","#0000ff"]},
     "legend":{"orient":"none","legendX":266,"legendY":209,"title":null,"labelFontSize":14.5,"symbolSize":36,"symbolStrokeWidth":1,"rowPadding":2,"labelOffset":14,"labelExpr":"datum.label=='a'?'0,056 GW/cm²':datum.label=='b'?'0,121 GW/cm²':'0,285 GW/cm²'"}},
    "shape":{"field":"s","type":"nominal","scale":{"domain":["a","b","c"],"range":["triangle-up","circle","square"]},
     "legend":{"orient":"none","legendX":266,"legendY":209,"title":null,"labelFontSize":14.5,"symbolSize":36,"symbolStrokeWidth":1,"rowPadding":2,"labelOffset":14,"labelExpr":"datum.label=='a'?'0,056 GW/cm²':datum.label=='b'?'0,121 GW/cm²':'0,285 GW/cm²'"}}
   }},
  {"data":{"name":"AL"},"mark":{"type":"line","strokeWidth":1.2,"interpolate":"monotone","clip":true},
   "encoding":{"stroke":{"field":"s","type":"nominal","scale":{"domain":["a","b","c"],"range":["#000000","#ff0000","#00dd00"]},"legend":null}}},
  {"data":{"name":"TA"},"mark":{"type":"text","align":"left","baseline":"middle","fontSize":14.5,"font":"Liberation Sans","color":"#000000"},
   "encoding":{"text":{"field":"t"}}},
  {"data":{"name":"TA"},"transform":[{"filter":"datum.t=='TZO:1%Nd'"}],"mark":{"type":"text","align":"left","baseline":"middle","fontSize":14.5,"font":"Liberation Sans","color":"#000000","dy":18.5,"text":"λ"},"encoding":{}},
  {"data":{"name":"TA"},"transform":[{"filter":"datum.t=='TZO:1%Nd'"}],"mark":{"type":"text","align":"left","baseline":"middle","fontSize":9,"font":"Liberation Sans","color":"#000000","dx":6,"dy":25,"text":"exc"},"encoding":{}},
  {"data":{"name":"TA"},"transform":[{"filter":"datum.t=='TZO:1%Nd'"}],"mark":{"type":"text","align":"left","baseline":"middle","fontSize":14.5,"font":"Liberation Sans","color":"#000000","dx":21,"dy":18.5,"text":"= 850nm"},"encoding":{}}
 ]
},
{
 "width":379,"height":309,
 "encoding":{
  "x":{"field":"x","type":"quantitative","scale":{"domain":[-2,2],"nice":false,"zero":false},
   "axis":{"values":[-2,-1.75,-1.5,-1.25,-1,-0.75,-0.5,-0.25,0,0.25,0.5,0.75,1,1.25,1.5,1.75,2],"labelExpr":"round(datum.value*4)%2==0?replace(replace(format(datum.value,'.1f'),'.',','),'\u2212','-'):''","tickSize":{"condition":{"test":"round(datum.value*4)%2==0","value":5},"value":3},"labelFontSize":14.5,"labelPadding":3,"title":"Z/Zo","titlePadding":3}},
  "y":{"field":"y","type":"quantitative","scale":{"domain":[0.2,2.0],"nice":false,"zero":false},
   "axis":{"values":[0.2,0.3,0.4,0.5,0.6,0.7,0.8,0.9,1.0,1.1,1.2,1.3,1.4,1.5,1.6,1.7,1.8,1.9,2.0],"labelExpr":"round(datum.value*10)%2==0?replace(format(datum.value,'.1f'),'.',','):''","tickSize":{"condition":{"test":"round(datum.value*10)%2==0","value":5},"value":3},"labelFontSize":14.5,"labelPadding":2,"title":"Normalized Transmitance","titlePadding":9}}
 },
 "layer":[
  {"data":{"name":"B"},"mark":{"type":"point","filled":false,"strokeWidth":1,"clip":true},
   "encoding":{
    "stroke":{"field":"s","type":"nominal","scale":{"range":["#000000","#ff0000","#ff80ff","#1e8c1e","#8c3cff"]},"legend":null},
    "shape":{"field":"s","type":"nominal","scale":{"range":["square","triangle-up","circle","M0,-1L1,0L0,1L-1,0Z M-0.5,-0.5L0.5,0.5 M-0.5,0.5L0.5,-0.5","triangle-down"]},"legend":null},
    "size":{"field":"s","type":"nominal","scale":{"range":[28,55,50,30,40]},"legend":null}
   }},
  {"data":{"name":"BL"},"mark":{"type":"line","strokeWidth":1.3,"interpolate":"monotone","clip":true},
   "encoding":{
    "color":{"field":"k","type":"nominal","scale":{"domain":["a","b","c","d","e"],"range":["#000000","#ff0000","#0000ff","#1e8c1e","#8c3cff"]},
    "legend":{"orient":"none","legendX":232,"legendY":198,"title":null,"symbolType":"stroke","symbolSize":900,"symbolStrokeWidth":1.5,"labelFontSize":14,"labelOffset":5,"clipHeight":18,"rowPadding":0,"labelExpr":"datum.label=='a'?'0,050 GW/cm²':datum.label=='b'?'0,110 GW/cm²':datum.label=='c'?'0,180 GW/cm²':datum.label=='d'?'0,250 GW/cm²':'0,320 GW/cm²'"}}}},
  {"data":{"name":"TB"},"mark":{"type":"text","align":"left","baseline":"middle","fontSize":13.5,"font":"Liberation Sans","color":"#000000"},
   "encoding":{"text":{"field":"t"}}},
  {"data":{"name":"TB"},"transform":[{"filter":"datum.t=='TZO:1%Nd,1%Ag'"}],"mark":{"type":"text","align":"left","baseline":"middle","fontSize":13.5,"font":"Liberation Sans","color":"#000000","dy":18,"text":"λ"},"encoding":{}},
  {"data":{"name":"TB"},"transform":[{"filter":"datum.t=='TZO:1%Nd,1%Ag'"}],"mark":{"type":"text","align":"left","baseline":"middle","fontSize":8,"font":"Liberation Sans","color":"#000000","dx":6,"dy":25,"text":"exc"},"encoding":{}},
  {"data":{"name":"TB"},"transform":[{"filter":"datum.t=='TZO:1%Nd,1%Ag'"}],"mark":{"type":"text","align":"left","baseline":"middle","fontSize":14,"font":"Liberation Sans","color":"#000000","dx":17,"dy":18,"text":"= 850nm"},"encoding":{}}
 ]
}
]
}
